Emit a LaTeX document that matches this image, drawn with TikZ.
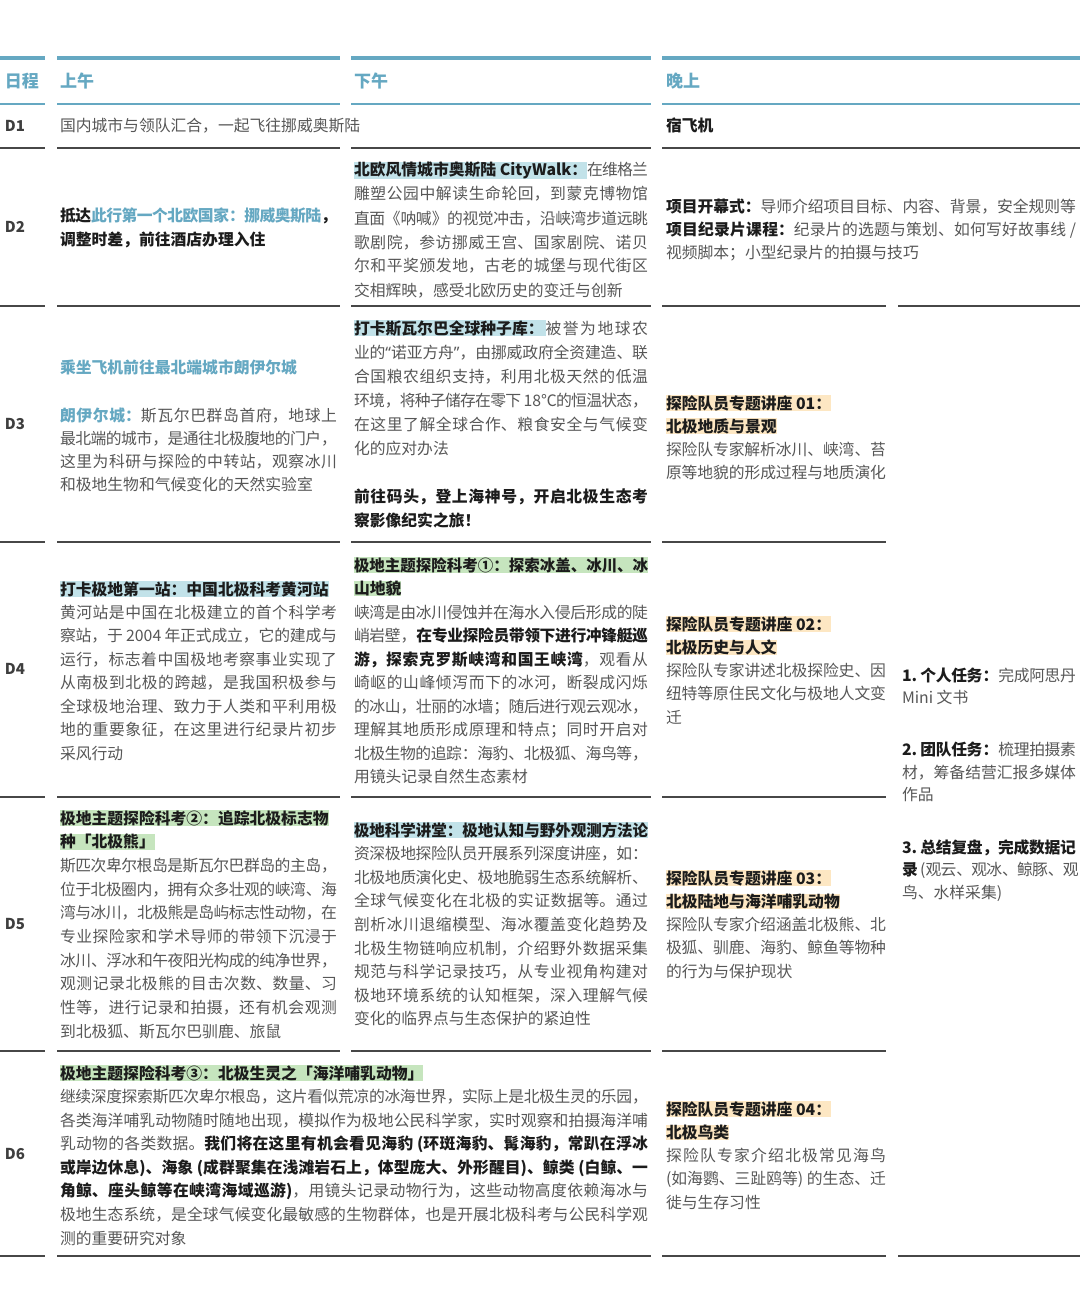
\documentclass[tikz,border=0pt]{standalone}
\usepackage{fontspec}
\usepackage{graphicx}
\setmainfont{Noto Sans CJK SC}
\newfontfamily\qf{Noto Sans}
\usepackage{xcolor}
\definecolor{hdteal}{HTML}{65A8C2}
\definecolor{txtgray}{HTML}{575757}
\definecolor{txtdark}{HTML}{1C1C1C}
\definecolor{dgray}{HTML}{3E3E3E}
\definecolor{rulegray}{HTML}{474747}
\definecolor{hlblue}{HTML}{C2E2E9}
\definecolor{hlgreen}{HTML}{C6E5BE}
\definecolor{hlorange}{HTML}{FDE7C3}
\XeTeXlinebreaklocale "zh"
\XeTeXlinebreakskip=0pt plus 3pt minus 0.8pt
\XeTeXlinebreakpenalty=10000
\tolerance=10000 \hbadness=10000 \hfuzz=60pt \vfuzz=60pt
\newcommand\BD[1]{{\bfseries\color{txtdark}#1}}
\newcommand\TLt[1]{{\bfseries\color{hdteal}#1}}
\newcommand\HLb[1]{{\setlength{\fboxsep}{0pt}\colorbox{hlblue}{\rule[-0.12em]{0pt}{0.98em}\bfseries\color{txtdark}#1}}}
\newcommand\HLg[1]{{\setlength{\fboxsep}{0pt}\colorbox{hlgreen}{\rule[-0.12em]{0pt}{0.98em}\bfseries\color{txtdark}#1}}}
\newcommand\HLo[1]{{\setlength{\fboxsep}{0pt}\colorbox{hlorange}{\rule[-0.12em]{0pt}{0.98em}\bfseries\color{txtdark}#1}}}
\newcommand\SQZ[1]{\scalebox{0.98}[1]{#1}}
\tikzset{
  cellx/.style={anchor=base west, inner sep=0pt, outer sep=0pt, align=justify, text=txtgray, font=\fontsize{15.8}{#1}\selectfont},
  cellx/.default=23.5,
  oneline/.style={anchor=base west, inner sep=0pt, outer sep=0pt, text=txtgray, font=\fontsize{15.8}{23.5}\selectfont},
  hdr/.style={anchor=base west, inner sep=0pt, outer sep=0pt, text=hdteal, font=\fontsize{17}{20}\selectfont\bfseries},
  dlab/.style={anchor=base west, inner sep=0pt, outer sep=0pt, text=dgray, font=\fontsize{15}{18}\selectfont\bfseries},
  ruleteal/.style={draw=hdteal, line width=3.5pt},
  rulethin/.style={draw=hdteal, line width=1.4pt},
  ruledark/.style={draw=rulegray, line width=2pt},
}
\begin{document}
\begin{tikzpicture}[x=1pt,y=-1pt]
\useasboundingbox (0,0) rectangle (1080,1300);
\fill[white] (0,0) rectangle (1080,1300);
% ---------- rules ----------
\foreach \a/\b in {0/45,57/340,351/651,662/1080} {
  \draw[ruleteal] (\a,58) -- (\b,58);
  \draw[rulethin] (\a,104) -- (\b,104);
  \draw[ruledark] (\a,148) -- (\b,148);
}
\foreach \a/\b in {0/45,57/340,351/651,662/886,898/1080}
  \draw[ruledark] (\a,306) -- (\b,306);
\foreach \y in {542,797,1051}
  \foreach \a/\b in {0/45,57/340,351/651,662/886}
    \draw[ruledark] (\a,\y) -- (\b,\y);
\foreach \a/\b in {0/45,57/651,662/886,898/1080}
  \draw[ruledark] (\a,1256) -- (\b,1256);
% ---------- header ----------
\node[hdr] (h0) at (5,87.5) {日程};
\node[hdr] (h1) at (60,87.5) {上午};
\node[hdr] (h2) at (354,87.5) {下午};
\node[hdr] (h3) at (666,87.5) {晚上};
% ---------- day labels ----------
\node[dlab] (l1) at (5,131.5) {D1};
\node[dlab] (l2) at (5,232.5) {D2};
\node[dlab] (l3) at (5,429.5) {D3};
\node[dlab] (l4) at (5,674.5) {D4};
\node[dlab] (l5) at (5,929.5) {D5};
\node[dlab] (l6) at (5,1159.5) {D6};
% ---------- D1 ----------
\node[oneline] (d1m) at (60,132) {国内城市与领队汇合，一起飞往挪威奥斯陆};
\node[oneline] (d1e) at (666,132) {\BD{宿飞机}};
% ---------- D2 ----------
\node[cellx=24, text width=277pt] (d2m) at (60,222) {\BD{抵达}\TLt{此行第一个北欧国家：挪威奥斯陆}\BD{，}\linebreak
\BD{调整时差，前往酒店办理入住}};
\node[cellx=24, text width=294pt] (d2a) at (354,176) {\HLb{北欧风情城市奥斯陆 CityWalk：}在维格兰\linebreak
雕塑公园中解读生命轮回，到蒙克博物馆\linebreak
直面《呐喊》的视觉冲击，沿峡湾步道远眺\linebreak
歌剧院，参访挪威王宫、国家剧院、诺贝\linebreak
尔和平奖颁发地，古老的城堡与现代街区\linebreak
交相辉映，感受北欧历史的变迁与创新};
\node[cellx=23, text width=410pt] (d2e) at (666,212) {\BD{项目开幕式：}导师介绍项目目标、内容、背景，安全规则等\linebreak
\BD{项目纪录片课程：}纪录片的选题与策划、如何写好故事线~/\linebreak
视频脚本；小型纪录片的拍摄与技巧};
% ---------- D3 ----------
\node[cellx=23.3, text width=277pt] (d3m) at (60,373) {\TLt{乘坐飞机前往最北端城市朗伊尔城}\par\vspace{24.7pt}
\TLt{朗伊尔城：}斯瓦尔巴群岛首府，地球上\linebreak
最北端的城市，是通往北极腹地的门户，\linebreak
这里为科研与探险的中转站，观察冰川\linebreak
和极地生物和气候变化的天然实验室};
\node[cellx=24, text width=294pt] (d3a) at (354,334) {\HLb{打卡斯瓦尔巴全球种子库：\kern2pt}被誉为地球农\linebreak
业的{\qf “}诺亚方舟{\qf ”}，由挪威政府全资建造、联\linebreak
合国粮农组织支持，利用北极天然的低温\linebreak
环境，将种子储存在零下~18℃的恒温状态，\linebreak
在这里了解全球合作、粮食安全与气候变\linebreak
化的应对办法\par\vspace{24pt}
\BD{前往码头，登上海神号，开启北极生态考\linebreak
察影像纪实之旅！}};
\node[cellx=23, text width=220pt] (d3e) at (666,409) {\HLo{探险队员专题讲座 01：}\par
\HLo{北极地质与景观}\par
探险队专家解析冰川、峡湾、苔\linebreak
原等地貌的形成过程与地质演化};
% ---------- evening tasks (D3-D6) ----------
\node[cellx=22.6, text width=174pt] (tasks) at (902,681) {\BD{1.~个人任务：}完成阿思丹\linebreak
Mini~文书\par\vspace{29.5pt}
\BD{2.~团队任务：}梳理拍摄素\linebreak
材，筹备结营汇报多媒体\linebreak
作品\par\vspace{29.5pt}
\BD{3.~总结复盘，完成数据记\linebreak
录}~(观云、观冰、鲸豚、观\linebreak
鸟、水样采集)};
% ---------- D4 ----------
\node[cellx=23.45, text width=277pt] (d4m) at (60,595) {\HLb{打卡极地第一站：中国北极科考黄河站}\par
黄河站是中国在北极建立的首个科学考\linebreak
察站，于~2004~年正式成立，它的建成与\linebreak
运行，标志着中国极地考察事业实现了\linebreak
从南极到北极的跨越，是我国积极参与\linebreak
全球极地治理、致力于人类和平利用极\linebreak
地的重要象征，在这里进行纪录片初步\linebreak
采风行动};
\node[cellx=23.55, text width=294pt] (d4a) at (354,571) {\SQZ{\HLg{极地主题探险科考①：探索冰盖、冰川、冰}}\par
\HLg{山地貌}\par
峡湾是由冰川侵蚀并在海水入侵后形成的陡\linebreak
峭岩壁，\BD{在专业探险员带领下进行冲锋艇巡\linebreak
游，探索克罗斯峡湾和国王峡湾}，观看从\linebreak
崎岖的山峰倾泻而下的冰河，断裂成闪烁\linebreak
的冰山，壮丽的冰墙；随后进行观云观冰，\linebreak
理解其地质形成原理和特点；同时开启对\linebreak
北极生物的追踪：海豹、北极狐、海鸟等，\linebreak
用镜头记录自然生态素材};
\node[cellx=23.25, text width=220pt] (d4e) at (666,630) {\HLo{探险队员专题讲座 02：}\par
\HLo{北极历史与人文}\par
探险队专家讲述北极探险史、因\linebreak
纽特等原住民文化与极地人文变\linebreak
迁};
% ---------- D5 ----------
\node[cellx=23.67, text width=277pt] (d5m) at (60,824) {\HLg{极地主题探险科考②：追踪北极标志物}\par
\HLg{种「北极熊」}\par
斯匹次卑尔根岛是斯瓦尔巴群岛的主岛，\linebreak
位于北极圈内，拥有众多壮观的峡湾、海\linebreak
湾与冰川，北极熊是岛屿标志性动物，在\linebreak
专业探险家和学术导师的带领下沉浸于\linebreak
冰川、浮冰和午夜阳光构成的纯净世界，\linebreak
观测记录北极熊的目击次数、数量、习\linebreak
性等，进行记录和拍摄，还有机会观测\linebreak
到北极狐、斯瓦尔巴驯鹿、旅鼠};
\node[cellx=23.6, text width=294pt] (d5a) at (354,836) {\SQZ{\HLb{极地科学讲堂：极地认知与野外观测方法论}}\par
资深极地探险队员开展系列深度讲座，如：\linebreak
北极地质演化史、极地脆弱生态系统解析、\linebreak
全球气候变化在北极的实证数据等。通过\linebreak
剖析冰川退缩模型、海冰覆盖变化趋势及\linebreak
北极生物链响应机制，介绍野外数据采集\linebreak
规范与科学记录技巧，从专业视角构建对\linebreak
极地环境系统的认知框架，深入理解气候\linebreak
变化的临界点与生态保护的紧迫性};
\node[cellx=23.25, text width=220pt] (d5e) at (666,884) {\HLo{探险队员专题讲座 03：}\par
\HLo{北极陆地与海洋哺乳动物}\par
探险队专家介绍涵盖北极熊、北\linebreak
极狐、驯鹿、海豹、鲸鱼等物种\linebreak
的行为与保护现状};
% ---------- D6 ----------
\node[cellx=23.57, text width=588pt] (d6m) at (60,1079) {\HLg{极地主题探险科考③：北极生灵之「海洋哺乳动物」}\par
继续深度探索斯匹次卑尔根岛，这片看似荒凉的冰海世界，实际上是北极生灵的乐园，\linebreak
各类海洋哺乳动物随时随地出现，模拟作为极地公民科学家，实时观察和拍摄海洋哺\linebreak
乳动物的各类数据。\BD{我们将在这里有机会看见海豹~(环斑海豹、髯海豹，常趴在浮冰\linebreak
或岸边休息)、海象~(成群聚集在浅滩岩石上，体型庞大、外形醒目)、鲸类~(白鲸、一\linebreak
角鲸、座头鲸等在峡湾海域巡游)}，用镜头记录动物行为，这些动物高度依赖海冰与\linebreak
极地生态系统，是全球气候变化最敏感的生物群体，也是开展北极科考与公民科学观\linebreak
测的重要研究对象};
\node[cellx=23.25, text width=220pt] (d6e) at (666,1115) {\HLo{探险队员专题讲座 04：}\par
\HLo{北极鸟类}\par
探险队专家介绍北极常见海鸟\linebreak
(如海鹦、三趾鸥等)~的生态、迁\linebreak
徙与生存习性};
\end{tikzpicture}
\end{document}
